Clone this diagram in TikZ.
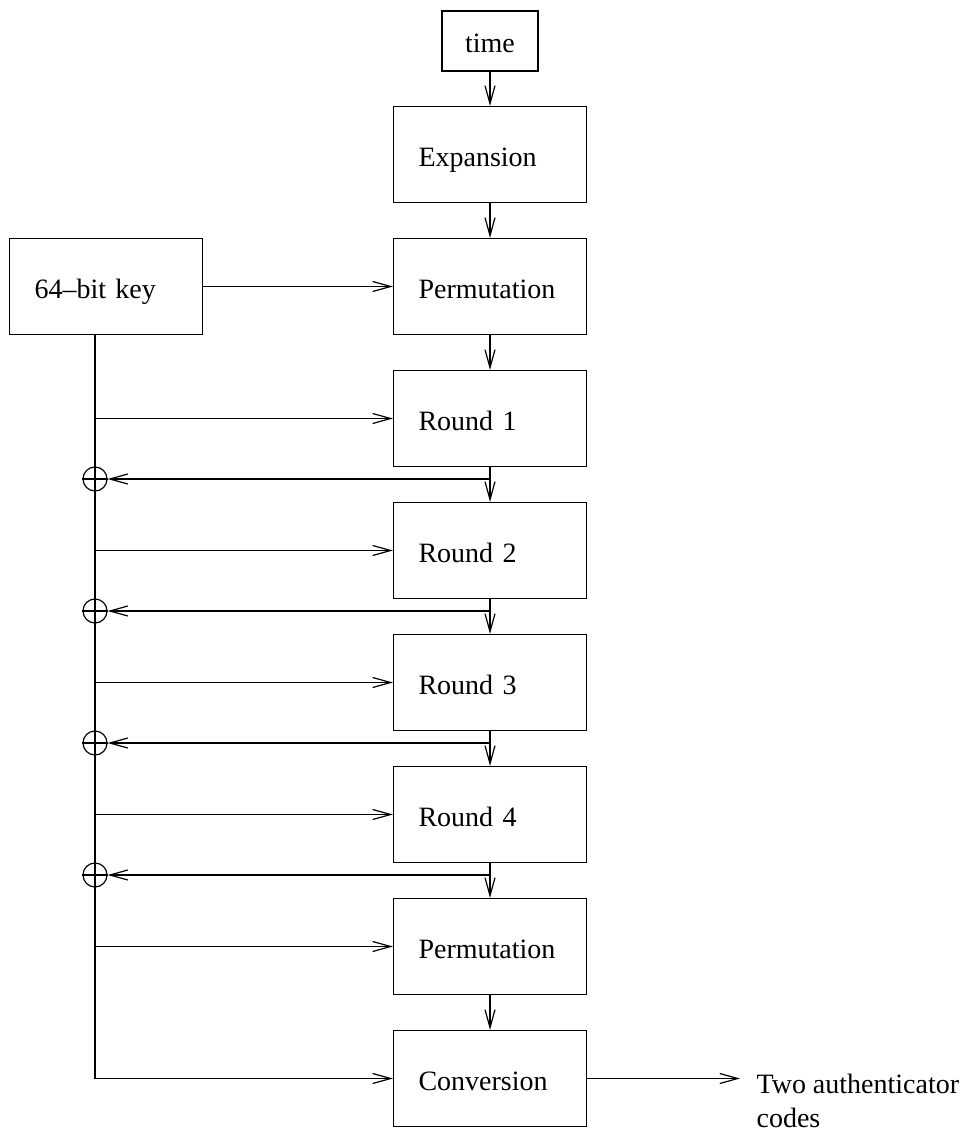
\documentclass[tikz,border=0pt]{standalone}
\usepackage{fontspec}
\setmainfont{Liberation Serif}
\usetikzlibrary{arrows.meta}
\begin{document}
\begin{tikzpicture}[x=1pt,y=-1pt,
  line width=1.2pt,
  >={Straight Barb[length=18pt,width=10pt]},
  txt/.style={font=\fontsize{28}{34}\selectfont},
  stage/.style={txt, draw, rectangle, minimum height=96pt, text width=143pt,
    inner xsep=25pt, inner ysep=0pt, align=left, text height=25pt, text depth=1pt},
  xor/.style={draw, circle, minimum size=24pt, inner sep=0pt}]
\useasboundingbox (0,0) rectangle (970,1131);

% input and key
\node[txt, draw, minimum width=96pt, minimum height=60pt, inner sep=0pt,
  text height=25pt, text depth=1pt] (time) at (490,41) {time};
\node[stage] (key) at (106,286.5) {64--bit key};

% main chain of stages
\node[stage] (exp)   at (490,154.5)  {Expansion};
\node[stage] (perm1) at (490,286.5)  {Permutation};
\node[stage] (r1)    at (490,418.5)  {Round 1};
\node[stage] (r2)    at (490,550.5)  {Round 2};
\node[stage] (r3)    at (490,682.5)  {Round 3};
\node[stage] (r4)    at (490,814.5)  {Round 4};
\node[stage] (perm2) at (490,946.5)  {Permutation};
\node[stage] (conv)  at (490,1078.5) {Conversion};

% xor junctions on the key bus
\coordinate (bus) at (95,0);
\node[xor] (x1) at (95,479) {};
\node[xor] (x2) at (95,611) {};
\node[xor] (x3) at (95,743) {};
\node[xor] (x4) at (95,875) {};
\foreach \x in {x1,x2,x3,x4}
  \draw (\x.west) -- (\x.east) (\x.north) -- (\x.south);

% output label
\node[txt, anchor=north west, inner sep=0pt, align=left] (outtxt) at (756,1073)
  {Two authenticator\\codes};

% data path
\draw[->] (time) -- (exp);
\draw[->] (exp) -- (perm1);
\draw[->] (perm1) -- (r1);
\draw[->] (r1) -- (r2);
\draw[->] (r2) -- (r3);
\draw[->] (r3) -- (r4);
\draw[->] (r4) -- (perm2);
\draw[->] (perm2) -- (conv);

% key distribution
\draw[->] (key.east) -- (perm1.west);
\draw[->] (bus |- key.south) -- (bus |- conv.west) -- (conv.west);
\foreach \n in {r1,r2,r3,r4,perm2}
  \draw[->] (bus |- \n.west) -- (\n.west);

% feedback into the xor junctions
\foreach \a/\x in {r1/x1,r2/x2,r3/x3,r4/x4}
  \draw[->] (\a.south |- \x) -- (\x.east);

% result
\draw[->, shorten >=16pt] (conv.east) -- (conv.east -| outtxt.west);
\end{tikzpicture}
\end{document}
